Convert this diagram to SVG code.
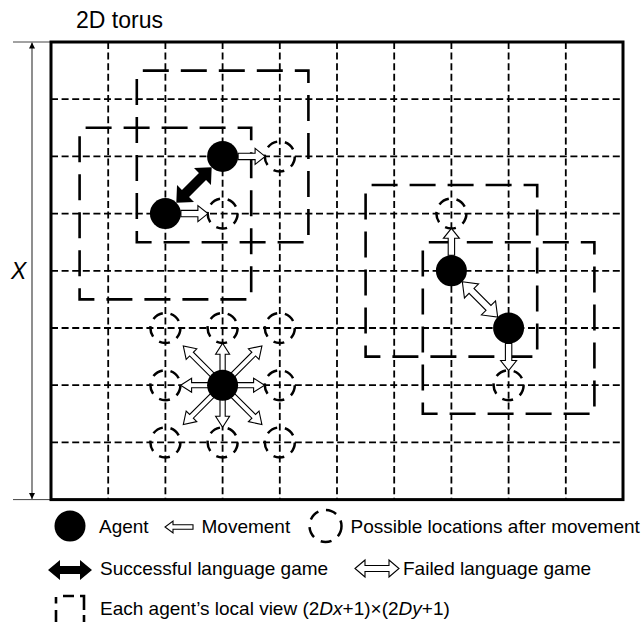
<svg xmlns="http://www.w3.org/2000/svg" width="644" height="622" viewBox="0 0 644 622">
<style>
text{font-family:"Liberation Sans",Arial,sans-serif;fill:#000}
.lg{font-size:19px}
.grid{stroke:#000;stroke-width:1.8;stroke-dasharray:7 3.6;fill:none}
.view{fill:none;stroke:#000;stroke-width:2.6;stroke-dasharray:26 12}
.loc{fill:none;stroke:#000;stroke-width:2.5;stroke-dasharray:11 7.85}
.agent{fill:#000}
.hol{fill:#fff;stroke:#000;stroke-width:1.1;stroke-linejoin:miter}
.blk{fill:#000}
</style>
<defs>
<path id="mv" d="M0,-3.2 H17 V-8 L27,0 L17,8 V3.2 H0 Z"/>
<path id="so" d="M8,-2.6 H31 V-7 L42,0 L31,7 V2.6 H8 Z"/>
<path id="sd" d="M8,-2.6 H44 V-7.5 L55.6,0 L44,7.5 V2.6 H8 Z"/>
<marker id="ah" viewBox="0 0 10 10" refX="10" refY="5" markerWidth="6" markerHeight="9" orient="auto-start-reverse" markerUnits="userSpaceOnUse"><path d="M0,0 L10,5 L0,10 Z" fill="#000"/></marker>
</defs>

<g id="title"><text x="76" y="28" font-size="23">2D torus</text></g>

<g id="axis">
<line x1="13" y1="42" x2="51" y2="42" stroke="#444" stroke-width="1"/>
<line x1="13" y1="499.6" x2="51" y2="499.6" stroke="#444" stroke-width="1"/>
<line x1="32" y1="42.5" x2="32" y2="499" stroke="#444" stroke-width="1.2" marker-start="url(#ah)" marker-end="url(#ah)"/>
<text x="11" y="279" font-size="23" font-style="italic">X</text>
</g>

<g id="grid" class="grid">
<line x1="108.2" y1="42" x2="108.2" y2="500"/>
<line x1="165.4" y1="42" x2="165.4" y2="500"/>
<line x1="222.6" y1="42" x2="222.6" y2="500"/>
<line x1="279.8" y1="42" x2="279.8" y2="500"/>
<line x1="337" y1="42" x2="337" y2="500"/>
<line x1="394.2" y1="42" x2="394.2" y2="500"/>
<line x1="451.4" y1="42" x2="451.4" y2="500"/>
<line x1="508.6" y1="42" x2="508.6" y2="500"/>
<line x1="565.8" y1="42" x2="565.8" y2="500"/>
<line x1="51" y1="99.2" x2="623" y2="99.2"/>
<line x1="51" y1="156.4" x2="623" y2="156.4"/>
<line x1="51" y1="213.6" x2="623" y2="213.6"/>
<line x1="51" y1="270.8" x2="623" y2="270.8"/>
<line x1="51" y1="328" x2="623" y2="328"/>
<line x1="51" y1="385.2" x2="623" y2="385.2"/>
<line x1="51" y1="442.4" x2="623" y2="442.4"/>
</g>
<g id="torus"><rect x="51" y="42" width="572" height="457.6" fill="none" stroke="#000" stroke-width="3"/></g>

<g id="local-views">
<rect id="view1" class="view" x="136.8" y="70.6" width="171.6" height="171.6" stroke-dashoffset="32"/>
<rect id="view2" class="view" x="79.6" y="127.8" width="171.6" height="171.6" stroke-dashoffset="32"/>
<rect id="view3" class="view" x="365.6" y="185" width="171.6" height="171.6" stroke-dashoffset="32"/>
<rect id="view4" class="view" x="422.8" y="242.2" width="171.6" height="171.6" stroke-dashoffset="32"/>
</g>

<g id="locations">
<circle class="loc" cx="279.8" cy="156.4" r="15"/>
<circle class="loc" cx="222.6" cy="213.6" r="15"/>
<circle class="loc" cx="451.4" cy="213.6" r="15"/>
<circle class="loc" cx="508.6" cy="385.2" r="15"/>
<circle class="loc" cx="165.4" cy="328" r="15"/>
<circle class="loc" cx="222.6" cy="328" r="15"/>
<circle class="loc" cx="279.8" cy="328" r="15"/>
<circle class="loc" cx="165.4" cy="385.2" r="15"/>
<circle class="loc" cx="279.8" cy="385.2" r="15"/>
<circle class="loc" cx="165.4" cy="442.4" r="15"/>
<circle class="loc" cx="222.6" cy="442.4" r="15"/>
<circle class="loc" cx="279.8" cy="442.4" r="15"/>
</g>

<g id="connectors">
<use href="#mv" class="hol" transform="translate(238.1,156.4)"/>
<use href="#mv" class="hol" transform="translate(180.9,213.6)"/>
<use href="#mv" class="hol" transform="translate(451.4,255.3) rotate(-90)"/>
<use href="#mv" class="hol" transform="translate(508.6,343.5) rotate(90)"/>
<path class="blk" transform="translate(194,185) rotate(-45)" d="M-25,0 L-12,-12 V-5 H12 V-12 L25,0 L12,12 V5 H-12 V12 Z"/>
<path class="hol" transform="translate(480,299.4) rotate(45)" d="M-25,0 L-12,-10 V-3.5 H12 V-10 L25,0 L12,10 V3.5 H-12 V10 Z"/>
<g transform="translate(222.6,385.2)">
<use href="#so" class="hol"/>
<use href="#so" class="hol" transform="rotate(90)"/>
<use href="#so" class="hol" transform="rotate(180)"/>
<use href="#so" class="hol" transform="rotate(270)"/>
<use href="#sd" class="hol" transform="rotate(45)"/>
<use href="#sd" class="hol" transform="rotate(135)"/>
<use href="#sd" class="hol" transform="rotate(225)"/>
<use href="#sd" class="hol" transform="rotate(315)"/>
</g>
</g>

<g id="agents">
<circle id="agent1" class="agent" cx="222.6" cy="156.4" r="15.5"/>
<circle id="agent2" class="agent" cx="165.4" cy="213.6" r="15.5"/>
<circle id="agent3" class="agent" cx="451.4" cy="270.8" r="15.5"/>
<circle id="agent4" class="agent" cx="508.6" cy="328" r="15.5"/>
<circle id="agent5" class="agent" cx="222.6" cy="385.2" r="15.5"/>
</g>

<g id="legend">
<circle class="agent" cx="70" cy="526" r="15.5"/>
<text class="lg" x="99" y="532.5">Agent</text>
<path class="hol" transform="translate(193,527) rotate(180)" d="M0,-2.2 H20 V-6 L28,0 L20,6 V2.2 H0 Z"/>
<text class="lg" x="201.5" y="532.5">Movement</text>
<circle class="loc" cx="325.5" cy="526" r="16"/>
<text class="lg" x="350.5" y="532.5">Possible locations after movement</text>
<path class="blk" transform="translate(70,570)" d="M-22,0 L-10,-10 V-4 H10 V-10 L22,0 L10,10 V4 H-10 V10 Z"/>
<text class="lg" x="100" y="575">Successful language game</text>
<path class="hol" transform="translate(377,568.5)" d="M-22,0 L-12,-8.5 V-3 H12 V-8.5 L22,0 L12,8.5 V3 H-12 V8.5 Z"/>
<text class="lg" x="403" y="575">Failed language game</text>
<path d="M56,597 V603.5 M56,610 V622 M63,596 H74 M80,596 H84 V610 M84,615 V622" fill="none" stroke="#000" stroke-width="2.6"/>
<text class="lg" x="100" y="615">Each agent’s local view (2<tspan font-style="italic">Dx</tspan>+1)×(2<tspan font-style="italic">Dy</tspan>+1)</text>
</g>
</svg>
